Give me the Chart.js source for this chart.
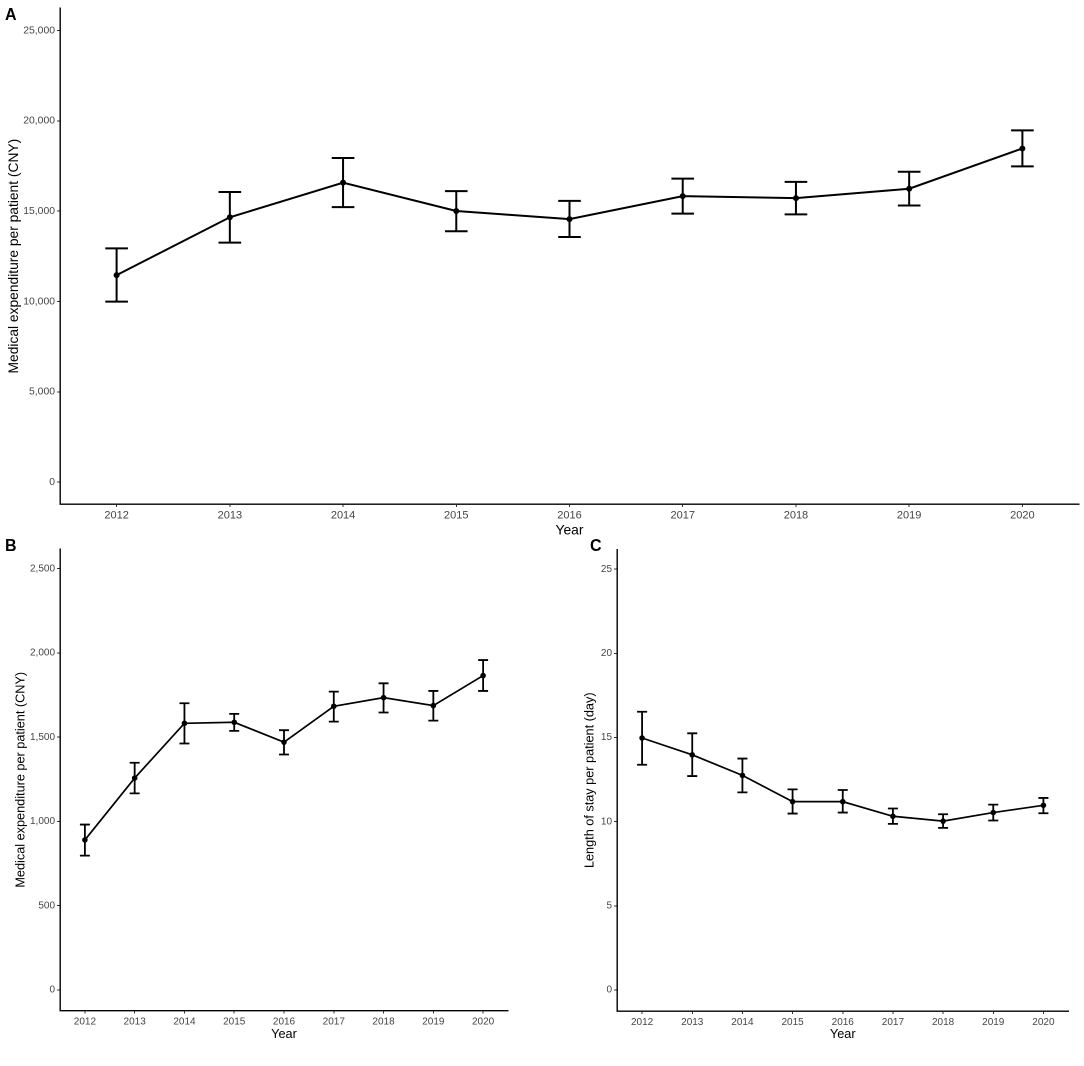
<!DOCTYPE html>
<html><head><meta charset="utf-8">
<script src="https://cdn.jsdelivr.net/npm/chart.js@4.4.1/dist/chart.umd.min.js"></script>
<style>
html,body{margin:0;padding:0;background:#fff;}
body{width:1084px;height:1066px;position:relative;overflow:hidden;font-family:"Liberation Sans",Arial,sans-serif;}
canvas{position:absolute;}
.lbl{position:absolute;font-weight:bold;font-size:16px;line-height:16px;color:#000;font-family:"Liberation Sans",Arial,sans-serif;}
</style></head><body>
<canvas id="cA" style="left:0;top:0;width:1084px;height:545px"></canvas>
<canvas id="cB" style="left:0;top:535px;width:540px;height:531px"></canvas>
<canvas id="cC" style="left:540px;top:535px;width:544px;height:531px"></canvas>
<div class="lbl" style="left:5px;top:7px">A</div>
<div class="lbl" style="left:5px;top:538px">B</div>
<div class="lbl" style="left:590px;top:538px">C</div>
<script>
// ---- data ----
const years = ['2012','2013','2014','2015','2016','2017','2018','2019','2020'];

// Panel A: medical expenditure per patient (CNY)
const expA      = [11460, 14660, 16580, 15010, 14560, 15830, 15720, 16240, 18470];
const expALow   = [ 9990, 13260, 15220, 13890, 13570, 14860, 14820, 15310, 17480];
const expAHigh  = [12940, 16060, 17940, 16110, 15570, 16800, 16620, 17180, 19470];
const ticksA    = [0, 5000, 10000, 15000, 20000, 25000];

// Panel B: medical expenditure per patient (CNY)
const expB      = [890, 1257, 1582, 1588, 1470, 1683, 1734, 1687, 1865];
const expBLow   = [797, 1166, 1462, 1537, 1397, 1592, 1646, 1598, 1774];
const expBHigh  = [981, 1348, 1701, 1638, 1541, 1770, 1819, 1774, 1957];
const ticksB    = [0, 500, 1000, 1500, 2000, 2500];

// Panel C: length of stay per patient (day)
const losC      = [14.97, 13.97, 12.75, 11.19, 11.19, 10.32, 10.03, 10.54, 10.97];
const losCLow   = [13.38, 12.71, 11.74, 10.48, 10.54,  9.87,  9.63, 10.07, 10.50];
const losCHigh  = [16.53, 15.25, 13.75, 11.92, 11.88, 10.78, 10.44, 11.01, 11.41];
const ticksC    = [0, 5, 10, 15, 20, 25];

const FONT = '"Liberation Sans", Arial, sans-serif';

const errorBars = {
  id: 'errorBars',
  beforeDatasetsDraw(chart, args, opts) {
    const {ctx, scales: {x, y}} = chart;
    chart.data.datasets.forEach(ds => {
      if (!ds.errLow) return;
      const catW = x.getPixelForTick(1) - x.getPixelForTick(0);
      const half = catW * opts.capFrac / 2;
      ctx.save();
      ctx.strokeStyle = '#000';
      ctx.lineWidth = opts.lineWidth;
      ctx.lineCap = 'butt';
      ds.data.forEach((v, j) => {
        const px = x.getPixelForValue(j);
        const yl = y.getPixelForValue(ds.errLow[j]);
        const yh = y.getPixelForValue(ds.errHigh[j]);
        ctx.beginPath();
        ctx.moveTo(px, yl); ctx.lineTo(px, yh);
        ctx.moveTo(px - half, yl); ctx.lineTo(px + half, yl);
        ctx.moveTo(px - half, yh); ctx.lineTo(px + half, yh);
        ctx.stroke();
      });
      ctx.restore();
    });
  }
};

function makeChart(id, g) {
  const cv = document.getElementById(id);
  cv.width = g.w; cv.height = g.h;
  return new Chart(cv, {
    type: 'line',
    data: {
      labels: years,
      datasets: [{
        data: g.values,
        errLow: g.low,
        errHigh: g.high,
        borderColor: '#000',
        backgroundColor: '#000',
        borderWidth: g.lw,
        pointRadius: g.pr,
        pointBorderWidth: 0,
        pointBackgroundColor: '#000',
        tension: 0,
        clip: false
      }]
    },
    options: {
      responsive: false,
      animation: false,
      devicePixelRatio: 2,
      layout: {padding: g.pad},
      plugins: {
        legend: {display: false},
        tooltip: {enabled: false},
        errorBars: {capFrac: 0.2, lineWidth: g.ew}
      },
      scales: {
        x: {
          type: 'category',
          offset: true,
          grid: {display: true, drawOnChartArea: false, drawTicks: true, tickLength: 3, tickColor: '#333', tickWidth: 1, offset: false},
          border: {display: true, color: '#000', width: 1.4},
          ticks: {color: '#454545', font: {family: FONT, size: g.xTickSize}, padding: 2, maxRotation: 0, autoSkip: false},
          title: {display: true, text: 'Year', color: '#000', font: {family: FONT, size: g.titleSize, lineHeight: 1}, padding: 0},
          afterFit: s => { s.height = g.xh; }
        },
        y: {
          type: 'linear',
          min: g.min, max: g.max,
          afterBuildTicks: s => { s.ticks = g.ticks.map(v => ({value: v})); },
          grid: {display: true, drawOnChartArea: false, drawTicks: true, tickLength: 3, tickColor: '#333', tickWidth: 1},
          border: {display: true, color: '#000', width: 1.4},
          ticks: {color: '#454545', font: {family: FONT, size: g.yTickSize}, padding: 2,
                  callback: v => v.toLocaleString('en-US')},
          title: {display: true, text: g.ytitle, color: '#000', font: {family: FONT, size: g.titleSize, lineHeight: 1}, padding: 0},
          afterFit: s => { s.width = g.yw; }
        }
      }
    },
    plugins: [errorBars]
  });
}

makeChart('cA', {
  w: 1084, h: 545, values: expA, low: expALow, high: expAHigh, ticks: ticksA,
  min: -1215, max: 26235, ytitle: 'Medical expenditure per patient (CNY)',
  pad: {left: 7.1, right: 5, top: 7, bottom: 7.6}, yw: 52.9, xh: 33.4,
  xTickSize: 11, yTickSize: 10.4, titleSize: 13.8, lw: 2, ew: 2, pr: 3
});
makeChart('cB', {
  w: 540, h: 531, values: expB, low: expBLow, high: expBHigh, ticks: ticksB,
  min: -122, max: 2616, ytitle: 'Medical expenditure per patient (CNY)',
  pad: {left: 14.65, right: 32, top: 14, bottom: 25}, yw: 45.35, xh: 30.5,
  xTickSize: 10, yTickSize: 10, titleSize: 12.7, lw: 1.7, ew: 1.8, pr: 2.8
});
makeChart('cC', {
  w: 544, h: 531, values: losC, low: losCLow, high: losCHigh, ticks: ticksC,
  min: -1.25, max: 26.17, ytitle: 'Length of stay per patient (day)',
  pad: {left: 43.65, right: 15.5, top: 14.5, bottom: 25}, yw: 33.35, xh: 30,
  xTickSize: 10, yTickSize: 10, titleSize: 12.7, lw: 1.7, ew: 1.8, pr: 2.8
});
</script>
</body></html>
